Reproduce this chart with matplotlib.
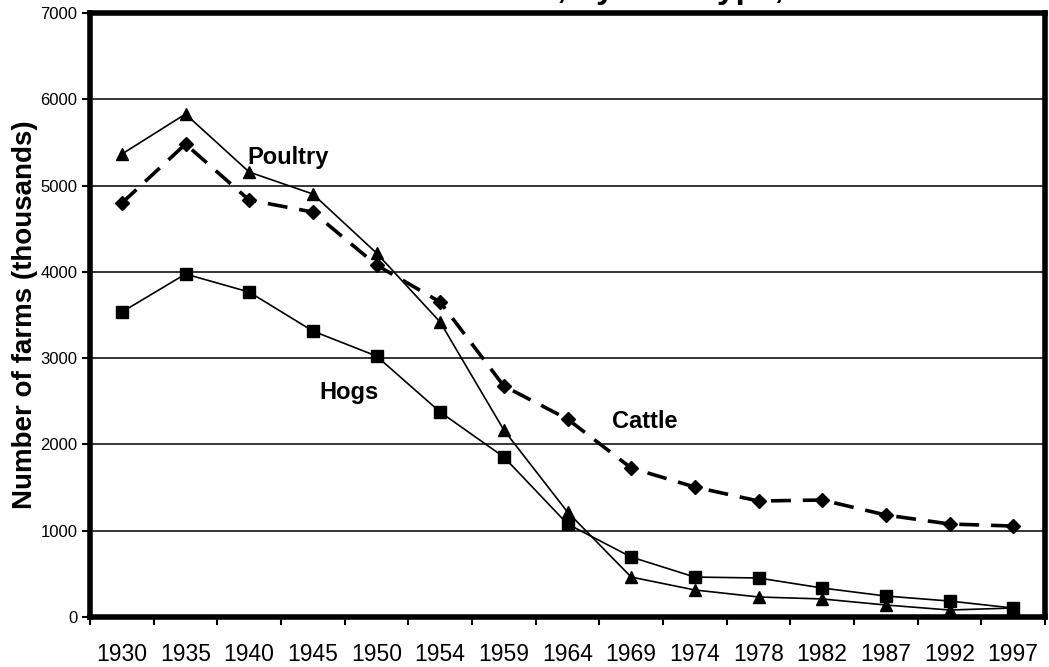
import numpy as np
import matplotlib
matplotlib.use("Agg")
import matplotlib.pyplot as plt

plt.rcParams["font.family"] = ["Liberation Sans", "DejaVu Sans"]

years = ["1930", "1935", "1940", "1945", "1950", "1954", "1959", "1964",
         "1969", "1974", "1978", "1982", "1987", "1992", "1997"]

# thousands of farms
poultry = [5365, 5829, 5157, 4902, 4218, 3418, 2167, 1217, 463, 313, 232, 209, 139, 81, 104]
cattle = [4797, 5481, 4832, 4693, 4079, 3650, 2677, 2294, 1727, 1506, 1344, 1356, 1182, 1078, 1054]
hogs = [3534, 3975, 3766, 3314, 3024, 2375, 1854, 1078, 695, 463, 452, 336, 243, 185, 104]

title = "Farms with livestock, by farm type, 1930-97"

fig = plt.figure(figsize=(10.49, 6.67), dpi=100)
ax = fig.add_axes([90 / 1049, 50 / 667, 955 / 1049, 604 / 667])

x = np.arange(len(years))

ax.plot(x, poultry, color="black", lw=1.2, marker="^", ms=9, zorder=3)
ax.plot(x, cattle, color="black", lw=2.6, ls=(0, (5.5, 3.3)), marker="D", ms=7.5, zorder=3)
ax.plot(x, hogs, color="black", lw=1.2, marker="s", ms=8, zorder=3)

# series labels placed on the plot like the original
ax.text(1.97, 5330, "Poultry", fontsize=17, fontweight="bold", ha="left", va="center")
ax.text(3.11, 2600, "Hogs", fontsize=17, fontweight="bold", ha="left", va="center")
ax.text(7.7, 2270, "Cattle", fontsize=17, fontweight="bold", ha="left", va="center")

ax.set_xlim(-0.5, len(years) - 0.5)
ax.set_ylim(0, 7000)
ax.set_yticks(range(0, 7001, 1000))
ax.tick_params(axis="y", labelsize=12, length=6, width=1.5, direction="out", pad=3)
ax.set_xticks(x)
ax.set_xticklabels(years, fontsize=16.5)
ax.set_xticks(np.arange(-0.5, len(years)), minor=True)
ax.tick_params(axis="x", which="major", length=0, pad=19)
ax.tick_params(axis="x", which="minor", length=6, width=1.5, direction="out")

ax.yaxis.grid(True, color="black", lw=1.1)
ax.set_axisbelow(True)
for s in ax.spines.values():
    s.set_linewidth(4)

ax.set_ylabel("Number of farms (thousands)", fontsize=20, fontweight="bold", labelpad=2)

# title sits above the canvas in the original, only its descenders show
fig.text(572 / 1049, 1 + 1.5 / 667, title, ha="center", va="baseline",
         fontsize=24, fontweight="bold")

fig.savefig("out.png", dpi=100)
